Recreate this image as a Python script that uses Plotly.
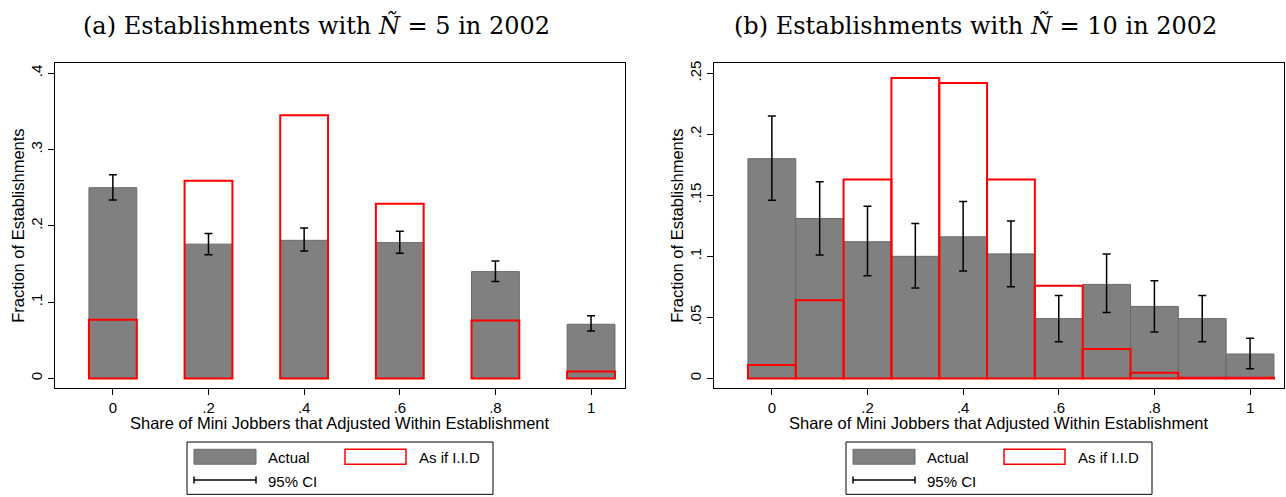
import plotly.graph_objects as go

# ---------------- data ----------------
share_a = [0.0, 0.2, 0.4, 0.6, 0.8, 1.0]
actual_a = [0.250, 0.176, 0.181, 0.178, 0.140, 0.071]
ci_low_a = [0.234, 0.162, 0.167, 0.164, 0.127, 0.062]
ci_high_a = [0.267, 0.190, 0.197, 0.193, 0.154, 0.082]
iid_a = [0.077, 0.259, 0.345, 0.229, 0.076, 0.009]

share_b = [0.0, 0.1, 0.2, 0.3, 0.4, 0.5, 0.6, 0.7, 0.8, 0.9, 1.0]
actual_b = [0.180, 0.131, 0.112, 0.100, 0.116, 0.102, 0.049, 0.077, 0.059, 0.049, 0.020]
ci_low_b = [0.146, 0.101, 0.084, 0.074, 0.088, 0.075, 0.030, 0.054, 0.038, 0.030, 0.008]
ci_high_b = [0.215, 0.161, 0.141, 0.127, 0.145, 0.129, 0.068, 0.102, 0.080, 0.068, 0.033]
iid_b = [0.011, 0.064, 0.163, 0.246, 0.242, 0.163, 0.076, 0.024, 0.0046, 0.0006, 0.0006]

x_tickvals = [0, 0.2, 0.4, 0.6, 0.8, 1.0]
x_ticktext = ["0", ".2", ".4", ".6", ".8", "1"]
y_tickvals_a = [0, 0.1, 0.2, 0.3, 0.4]
y_ticktext_a = ["0", ".1", ".2", ".3", ".4"]
y_tickvals_b = [0, 0.05, 0.1, 0.15, 0.2, 0.25]
y_ticktext_b = ["0", ".05", ".1", ".15", ".2", ".25"]

titles = ["(a) Establishments with <i>Ñ</i> = 5 in 2002",
          "(b) Establishments with <i>Ñ</i> = 10 in 2002"]
xtitle = "Share of Mini Jobbers that Adjusted Within Establishment"
ytitle = "Fraction of Establishments"
legend_labels = ["Actual", "As if I.I.D", "95% CI"]

# ---------------- layout constants ----------------
W, H = 1286, 497
SANS = "Liberation Sans, Arial, Helvetica, sans-serif"
SERIF = "DejaVu Serif, Liberation Serif, serif"
GRAY = "#808080"
GRAY_EDGE = "#6a6a6a"
RED = "#ff0000"


def px(x):
    return x / W


def py(y):
    return 1 - y / H


fig = go.Figure()

panels = [
    dict(xs=share_a, act=actual_a, lo=ci_low_a, hi=ci_high_a, iid=iid_a,
         xa="x", ya="y", yr=[-0.01303, 0.4130], yv=y_tickvals_a, yt=y_ticktext_a,
         dom=[55, 625]),
    dict(xs=share_b, act=actual_b, lo=ci_low_b, hi=ci_high_b, iid=iid_b,
         xa="x2", ya="y2", yr=[-0.00814, 0.2581], yv=y_tickvals_b, yt=y_ticktext_b,
         dom=[714, 1284]),
]

for p in panels:
    fig.add_trace(go.Bar(x=p["xs"], y=p["act"], width=0.1,
                         marker=dict(color=GRAY, line=dict(color=GRAY_EDGE, width=1)),
                         xaxis=p["xa"], yaxis=p["ya"], showlegend=False))
    fig.add_trace(go.Bar(x=p["xs"], y=p["iid"], width=0.1,
                         marker=dict(color="rgba(0,0,0,0)", line=dict(color=RED, width=2)),
                         xaxis=p["xa"], yaxis=p["ya"], showlegend=False))
    fig.add_trace(go.Scatter(
        x=p["xs"], y=p["act"], mode="markers",
        marker=dict(size=1, opacity=0),
        error_y=dict(type="data", symmetric=False,
                     array=[h - a for h, a in zip(p["hi"], p["act"])],
                     arrayminus=[a - l for a, l in zip(p["act"], p["lo"])],
                     color="black", thickness=1.5, width=4),
        xaxis=p["xa"], yaxis=p["ya"], showlegend=False, hoverinfo="skip"))

axis_common = dict(showline=True, mirror=True, linecolor="black", linewidth=1,
                   showgrid=False, zeroline=False, ticks="outside", ticklen=6,
                   tickcolor="black", tickwidth=1,
                   tickfont=dict(family=SANS, size=15, color="black"))

top_y, bot_y = 60.7, 387.7
layout = dict(
    width=W, height=H, autosize=False,
    margin=dict(l=0, r=0, t=0, b=0, pad=0),
    paper_bgcolor="white", plot_bgcolor="white",
    barmode="overlay", showlegend=False,
)
for i, p in enumerate(panels):
    sfx = "" if i == 0 else str(i + 1)
    layout["xaxis" + sfx] = dict(axis_common, domain=[px(p["dom"][0]), px(p["dom"][1])],
                                 range=[-0.121, 1.071], tickvals=x_tickvals,
                                 ticktext=x_ticktext, anchor="y" + sfx)
    layout["yaxis" + sfx] = dict(axis_common, domain=[py(bot_y), py(top_y)],
                                 range=p["yr"], tickvals=p["yv"], ticktext=p["yt"],
                                 tickangle=-90, anchor="x" + sfx)
fig.update_layout(**layout)

annotations = []
shapes = []
for i, p in enumerate(panels):
    cx = (p["dom"][0] + p["dom"][1]) / 2
    # panel title
    annotations.append(dict(text=titles[i], x=px(cx - 24), y=py(22), xref="paper", yref="paper",
                            showarrow=False, xanchor="center", yanchor="middle",
                            font=dict(family=SERIF, size=24, color="black")))
    # x-axis title
    annotations.append(dict(text=xtitle, x=px(cx), y=py(423), xref="paper", yref="paper",
                            showarrow=False, xanchor="center", yanchor="middle",
                            font=dict(family=SANS, size=16.5, color="black")))
    # y-axis title
    annotations.append(dict(text=ytitle, x=px(p["dom"][0] - 37), y=py((top_y + bot_y) / 2),
                            xref="paper", yref="paper", textangle=-90,
                            showarrow=False, xanchor="center", yanchor="middle",
                            font=dict(family=SANS, size=16.5, color="black")))
    # legend box
    L = cx - 153
    shapes.append(dict(type="rect", xref="paper", yref="paper",
                       x0=px(L), x1=px(L + 306), y0=py(494.3), y1=py(441.7),
                       line=dict(color="black", width=1), fillcolor="white"))
    shapes.append(dict(type="rect", xref="paper", yref="paper",
                       x0=px(L + 7), x1=px(L + 69), y0=py(464), y1=py(449),
                       line=dict(color=GRAY_EDGE, width=1), fillcolor=GRAY))
    shapes.append(dict(type="rect", xref="paper", yref="paper",
                       x0=px(L + 158), x1=px(L + 219), y0=py(464), y1=py(449),
                       line=dict(color=RED, width=1.5), fillcolor="white"))
    shapes.append(dict(type="line", xref="paper", yref="paper",
                       x0=px(L + 7), x1=px(L + 69), y0=py(480), y1=py(480),
                       line=dict(color="black", width=1.5)))
    for xe in (L + 7, L + 69):
        shapes.append(dict(type="line", xref="paper", yref="paper",
                           x0=px(xe), x1=px(xe), y0=py(476.5), y1=py(483.5),
                           line=dict(color="black", width=1.5)))
    for txt, tx, ty in ((legend_labels[0], L + 79, 457), (legend_labels[1], L + 230, 457),
                        (legend_labels[2], L + 79, 481)):
        annotations.append(dict(text=txt, x=px(tx), y=py(ty), xref="paper", yref="paper",
                                showarrow=False, xanchor="left", yanchor="middle",
                                font=dict(family=SANS, size=15, color="black")))

fig.update_layout(annotations=annotations, shapes=shapes)

fig.write_html("out.html", config={"displayModeBar": False},
               post_script="document.body.style.margin='0';")
